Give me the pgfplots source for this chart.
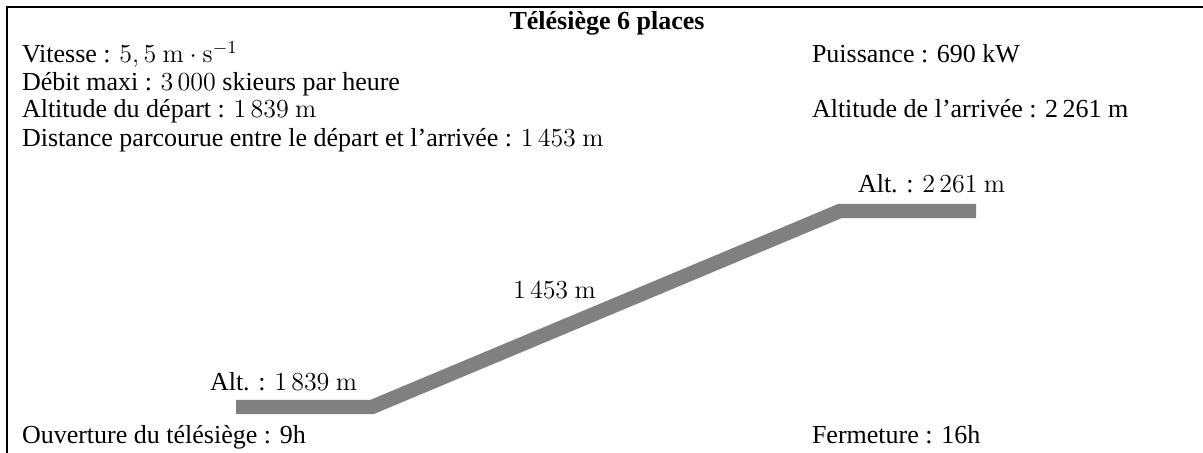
\RequirePackage{fix-cm}
\documentclass[border=0pt]{standalone}
\usepackage[no-math]{fontspec}
\setmainfont{Liberation Serif}
\usepackage{pgfplots}
\pgfplotsset{compat=1.18}
\tikzset{every node/.append style={inner sep=0pt, outer sep=0pt}}
\begin{document}
\fontsize{13pt}{15pt}\selectfont
\begin{tikzpicture}
\begin{axis}[
  width=601.5pt, height=226.5pt, scale only axis,
  xmin=0, xmax=1203, ymin=0, ymax=453, y dir=reverse,
  hide axis, clip=false,
]
\draw[line width=1pt] (axis cs:7,500) -- (axis cs:7,7) -- (axis cs:1260,7);
\addplot[color=gray, line width=7.2pt, line cap=butt, line join=miter, mark=none]
  coordinates {(236,407) (372,407) (840,211) (976,211)};
\node[anchor=base, inner sep=0pt] at (axis cs:607,30) {\textbf{Télésiège 6 places}};
\node[anchor=base west, inner sep=0pt] at (axis cs:22,63) {Vitesse : $5,5~\mathrm{m}\cdot\mathrm{s}^{-1}$};
\node[anchor=base west, inner sep=0pt] at (axis cs:22,91) {Débit maxi : $3\,000$ skieurs par heure};
\node[anchor=base west, inner sep=0pt] at (axis cs:22,118) {Altitude du départ : $1\,839~\mathrm{m}$};
\node[anchor=base west, inner sep=0pt] at (axis cs:22,147) {Distance parcourue entre le départ et l’arrivée : $1\,453~\mathrm{m}$};
\node[anchor=base west, inner sep=0pt] at (axis cs:22,443) {Ouverture du télésiège : 9h};
\node[anchor=base west, inner sep=0pt] at (axis cs:812,63) {Puissance : 690 kW};
\node[anchor=base west, inner sep=0pt] at (axis cs:812,118) {Altitude de l’arrivée : 2\,261 m};
\node[anchor=base west, inner sep=0pt] at (axis cs:812,443) {Fermeture : 16h};
\node[anchor=base west, inner sep=0pt] at (axis cs:210,390) {Alt. : $1\,839~\mathrm{m}$};
\node[anchor=base west, inner sep=0pt] at (axis cs:858,193) {Alt. : $2\,261~\mathrm{m}$};
\node[anchor=base west, inner sep=0pt] at (axis cs:513,299) {$1\,453~\mathrm{m}$};
\end{axis}
\pgfresetboundingbox
\path[use as bounding box] (current axis.south west) rectangle (current axis.north east);
\end{tikzpicture}
\end{document}
